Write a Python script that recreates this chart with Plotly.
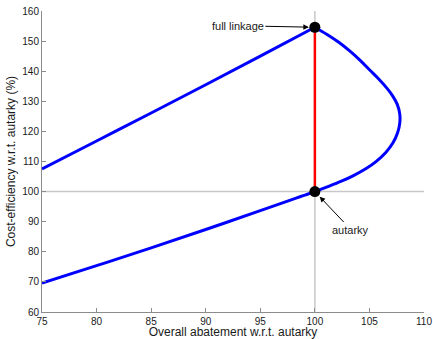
import plotly.graph_objects as go

# Frontier of linked outcomes: overall abatement vs cost-efficiency (both relative to autarky)
# Lower branch, around the right-hand bend, up to full linkage
loop_abatement = [75, 80, 85, 90, 95, 97.5, 98.7, 100,
                  101.19, 102.38, 103.54, 104.66, 105.63, 106.50, 107.16, 107.58, 107.78,
                  107.78, 107.55, 107.11, 106.56, 105.83, 105.05, 104.15, 103.19, 102.19,
                  101.12, 100]
loop_efficiency = [69.6, 75.4, 81.3, 87.4, 93.7, 96.85, 98.36, 100.0,
                   101.63, 103.36, 105.32, 107.57, 110.07, 113.02, 116.21, 119.53, 122.76,
                   125.75, 128.97, 131.89, 134.55, 137.51, 140.33, 143.62, 146.74, 149.60,
                   152.19, 154.6]
# Upper branch from full linkage back to the left edge
upper_abatement = [100, 95, 90, 85, 80, 75]
upper_efficiency = [154.6, 145.0, 135.5, 126.1, 116.8, 107.5]

# Reference points
point_names = ["full linkage", "autarky"]
point_abatement = [100, 100]
point_efficiency = [154.6, 100]

x_ticks = [75, 80, 85, 90, 95, 100, 105, 110]
y_ticks = [60, 70, 80, 90, 100, 110, 120, 130, 140, 150, 160]

FONT = "Liberation Sans, Arial, sans-serif"
TEXT = "#1a1a1a"
AXIS = "#8c8c8c"

fig = go.Figure()

# autarky reference lines
fig.add_vline(x=point_abatement[1], line=dict(color="#c8c8c8", width=1.5), layer="below")
fig.add_hline(y=point_efficiency[1], line=dict(color="#c8c8c8", width=1.5), layer="below")

# gain range between autarky and full linkage
fig.add_trace(go.Scatter(
    x=point_abatement, y=point_efficiency, mode="lines",
    line=dict(color="#ff0000", width=2.5), hoverinfo="skip", showlegend=False))

fig.add_trace(go.Scatter(
    x=loop_abatement, y=loop_efficiency, mode="lines",
    line=dict(color="#0000ff", width=3, shape="spline", smoothing=1.0),
    showlegend=False))
fig.add_trace(go.Scatter(
    x=upper_abatement, y=upper_efficiency, mode="lines",
    line=dict(color="#0000ff", width=3, shape="spline", smoothing=1.0),
    showlegend=False))

fig.add_trace(go.Scatter(
    x=point_abatement, y=point_efficiency, mode="markers",
    marker=dict(color="black", size=11), text=point_names, showlegend=False))

arrow = dict(showarrow=True, arrowhead=2, arrowsize=1.1, arrowwidth=1, arrowcolor="black",
             font=dict(family=FONT, size=11, color=TEXT))
fig.add_annotation(x=point_abatement[0], y=point_efficiency[0], text=point_names[0],
                   ax=-77, ay=-1.5, standoff=6, **arrow)
fig.add_annotation(x=point_abatement[1], y=point_efficiency[1], text=point_names[1],
                   ax=36, ay=38, standoff=7, **arrow)

axis_common = dict(
    showgrid=False, zeroline=False, showline=True, linecolor=AXIS, linewidth=1,
    ticks="inside", ticklen=4, tickcolor=AXIS, tickwidth=1,
    tickfont=dict(family=FONT, size=10, color=TEXT), automargin=False,
)

fig.update_xaxes(range=[75, 110], tickvals=x_ticks,
                 title=dict(text="Overall abatement w.r.t. autarky",
                            font=dict(family=FONT, size=12, color=TEXT), standoff=6),
                 **axis_common)
fig.update_yaxes(range=[60, 160], tickvals=y_ticks,
                 title=dict(text="Cost-efficiency w.r.t. autarky (%)",
                            font=dict(family=FONT, size=12, color=TEXT), standoff=4),
                 **axis_common)

fig.update_layout(
    width=433, height=339,
    margin=dict(l=42, r=9, t=11, b=27),
    paper_bgcolor="white", plot_bgcolor="white",
    font=dict(family=FONT, color=TEXT),
)

fig.write_html("out.html")
